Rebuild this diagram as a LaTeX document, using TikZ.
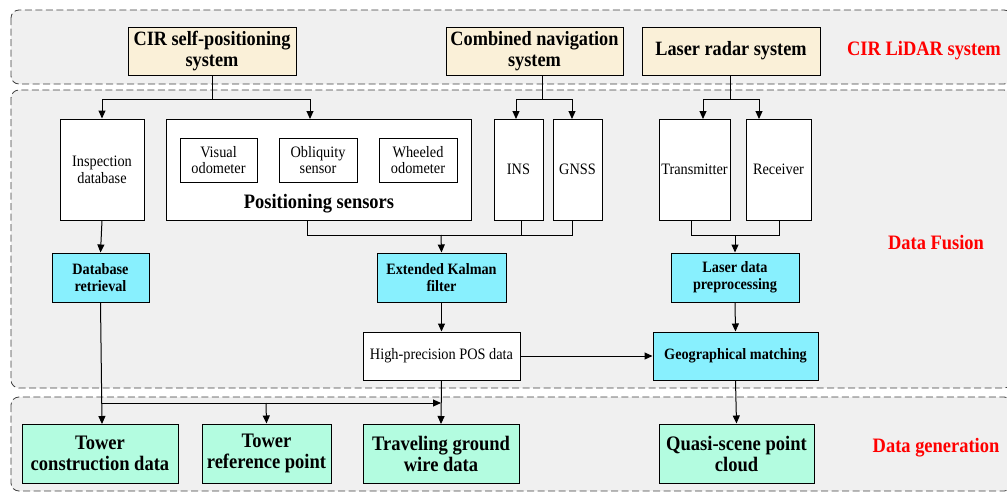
\documentclass[tikz,border=0pt]{standalone}
\usepackage{fontspec}
\setmainfont[FakeStretch=0.9]{Liberation Serif}
\usetikzlibrary{arrows.meta}
\definecolor{panelgray}{HTML}{F0F0F0}
\definecolor{beige}{HTML}{FAF0D8}
\definecolor{cyanbox}{HTML}{88F0FE}
\definecolor{greenbox}{HTML}{B3FCE0}
\definecolor{redlbl}{HTML}{FF0000}
\tikzset{
  panel/.style={draw=black!75, dashed, dash pattern=on 7pt off 3.5pt, fill=panelgray, rounded corners=8pt, line width=0.8pt},
  sysbox/.style={draw=black, line width=1pt, fill=beige, font=\fontsize{20.3}{20.5}\selectfont\bfseries, align=center},
  plainbox/.style={draw=black, line width=1pt, fill=white, font=\fontsize{15.9}{17}\selectfont, align=center},
  subbox/.style={draw=black, line width=1pt, fill=white, font=\fontsize{15.9}{16}\selectfont, align=center},
  procbox/.style={draw=black, line width=1pt, fill=cyanbox, font=\fontsize{15.8}{17}\selectfont\bfseries, align=center},
  outbox/.style={draw=black, line width=1pt, fill=greenbox, font=\fontsize{20.6}{21}\selectfont\bfseries, align=center},
  lbl/.style={text=redlbl, font=\fontsize{20.5}{22}\selectfont\bfseries},
  conn/.style={draw=black, line width=1pt},
  arr/.style={conn, -{Triangle[length=8pt,width=7pt]}},
}
\begin{document}
\begin{tikzpicture}[x=1pt,y=1pt]
\useasboundingbox (0,0) rectangle (1007,-493);
\fill[white] (0,0) rectangle (1007,-493);
\begin{scope}
\clip (0,0) rectangle (1007,-493);
\path[panel] (11,-10) rectangle (1012,-84);
\path[panel] (11,-90) rectangle (1012,-388);
\path[panel] (11,-397) rectangle (1012,-491);
\end{scope}

% top row
\node[sysbox, minimum width=168pt, minimum height=48pt, inner sep=0pt] (cir) at (212,-51) {CIR self-positioning\\system};
\node[sysbox, minimum width=177pt, minimum height=48pt, inner sep=0pt] (cnav) at (534.5,-51) {Combined navigation\\system};
\node[sysbox, minimum width=178pt, minimum height=48pt, inner sep=0pt] (lrs) at (731,-51) {Laser radar system};
\node[lbl] (l1) at (924,-51) {CIR LiDAR system};
\node[lbl] (l2) at (936,-243) {Data Fusion};
\node[lbl] (l3) at (936,-448) {Data generation};

% middle row
\node[plainbox, minimum width=84pt, minimum height=101pt, inner sep=0pt] (idb) at (102,-169.5) {Inspection\\database};
\node[plainbox, minimum width=305pt, minimum height=101pt, inner sep=0pt] (ps) at (318.5,-169.5) {};
\node[font=\fontsize{20.5}{22}\selectfont\bfseries] (pslbl) at (319,-204) {Positioning sensors};
\node[subbox, minimum width=77pt, minimum height=44pt, inner sep=0pt] (vo) at (218.5,-160) {Visual\\odometer};
\node[subbox, minimum width=78pt, minimum height=44pt, inner sep=0pt] (os) at (318,-160) {Obliquity\\sensor};
\node[subbox, minimum width=78pt, minimum height=44pt, inner sep=0pt] (wo) at (418,-160) {Wheeled\\odometer};
\node[plainbox, minimum width=49pt, minimum height=101pt, inner sep=0pt] (ins) at (518.5,-169.5) {INS};
\node[plainbox, minimum width=49pt, minimum height=101pt, inner sep=0pt] (gnss) at (577.5,-169.5) {GNSS};
\node[plainbox, minimum width=71pt, minimum height=101pt, inner sep=0pt] (tx) at (694.5,-169.5) {Transmitter};
\node[plainbox, minimum width=65pt, minimum height=101pt, inner sep=0pt] (rx) at (778.5,-169.5) {Receiver};

% processing
\node[procbox, minimum width=97pt, minimum height=49pt, inner sep=0pt] (dbr) at (100.5,-277.5) {Database\\retrieval};
\node[procbox, minimum width=129pt, minimum height=49pt, inner sep=0pt] (ekf) at (441.5,-277.5) {Extended Kalman\\filter};
\node[procbox, minimum width=128pt, minimum height=49pt, inner sep=0pt] (ldp) at (735,-277.5) {Laser data\\preprocessing};
\node[plainbox, minimum width=157pt, minimum height=48pt, inner sep=0pt] (pos) at (441.5,-356) {High-precision POS data};
\node[procbox, minimum width=165pt, minimum height=48pt, inner sep=0pt] (geo) at (735.5,-356) {Geographical matching};

% outputs
\node[outbox, minimum width=156pt, minimum height=59pt, inner sep=0pt] (tcd) at (100,-453.5) {Tower\\construction data};
\node[outbox, minimum width=129pt, minimum height=59pt, inner sep=0pt] (trp) at (266.5,-453.5) {Tower\\reference point};
\node[outbox, minimum width=156pt, minimum height=59pt, inner sep=0pt] (tgw) at (441,-453.5) {Traveling ground\\wire data};
\node[outbox, minimum width=155pt, minimum height=59pt, inner sep=0pt] (qsp) at (736.5,-453.5) {Quasi-scene point\\cloud};

% branches from top systems
\coordinate (b1) at (212,-99);
\draw[conn] (cir.south) -- (b1);
\draw[arr] (b1) -| (idb.north);
\draw[arr] (b1) -| (310,-119) coordinate (psin);
\coordinate (b2) at (542,-99);
\draw[conn] (542,-75) -- (b2);
\draw[arr] (b2) -| (516,-119) coordinate (insin);
\draw[arr] (b2) -| (572,-119) coordinate (gnssin);
\coordinate (b3) at (730,-99);
\draw[conn] (730,-75) -- (b3);
\draw[arr] (b3) -| (703,-119) coordinate (txin);
\draw[arr] (b3) -| (759,-119) coordinate (rxin);

% merge into EKF
\coordinate (m1) at (441,-235);
\draw[conn] (307,-220) |- (m1);
\draw[conn] (521,-220) |- (m1);
\draw[conn] (572,-220) |- (m1);
\draw[arr] (m1) -- (ekf.north);
% merge into laser preprocessing
\coordinate (m2) at (735,-235);
\draw[conn] (691,-220) |- (m2);
\draw[conn] (779,-220) |- (m2);
\draw[arr] (m2) -- (ldp.north);

\draw[arr] (idb.south) -- (dbr.north);
\draw[arr] (ekf.south) -- (pos.north);
\draw[arr] (ldp.south) -- (geo.north);
\draw[arr] (pos.east) -- (geo.west);
\draw[arr] (geo.south) -- (qsp.north);
\draw[arr] (pos.south) -- (441,-424);
\draw[arr] (dbr.south) -- (102,-424);
\coordinate (h1) at (102,-403);
\coordinate (h2) at (266,-403);
\draw[arr] (h1) -- (441,-403);
\draw[arr] (h2) -- (trp.north);
\end{tikzpicture}
\end{document}
